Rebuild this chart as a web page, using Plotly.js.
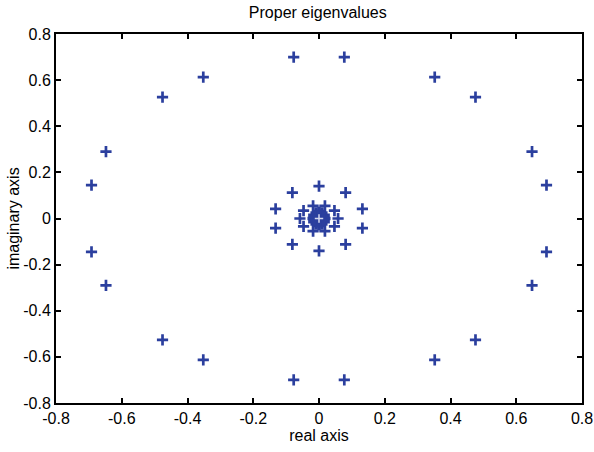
<!DOCTYPE html>
<html>
<head>
<meta charset="utf-8">
<script src="https://cdn.plot.ly/plotly-3.0.1.min.js"></script>
<style>html,body{margin:0;padding:0;background:#fff;}#chart{width:594px;height:452px;}</style>
</head>
<body>
<div id="chart"></div>
<script>
// Outer ring of eigenvalues
var outerRe = [0.077, 0.352, 0.476, 0.648, 0.692, 0.692, 0.648, 0.476, 0.352, 0.077,
               -0.077, -0.352, -0.476, -0.648, -0.692, -0.692, -0.648, -0.476, -0.352, -0.077];
var outerIm = [0.700, 0.613, 0.526, 0.290, 0.145, -0.145, -0.290, -0.526, -0.613, -0.700,
               -0.700, -0.613, -0.526, -0.290, -0.145, 0.145, 0.290, 0.526, 0.613, 0.700];
// First inner ring
var ring1Re = [0.000, 0.081, 0.132, 0.132, 0.081, 0.000, -0.081, -0.132, -0.132, -0.081];
var ring1Im = [0.140, 0.112, 0.042, -0.042, -0.112, -0.140, -0.112, -0.042, 0.042, 0.112];
// Second inner ring
var ring2Re = [0.058, 0.047, 0.018, -0.018, -0.047, -0.058, -0.047, -0.018, 0.018, 0.047];
var ring2Im = [0.000, 0.034, 0.055, 0.055, 0.034, 0.000, -0.034, -0.055, -0.055, -0.034];
// Dense cluster near the origin
var clusterRe = [0.018, 0.016, 0.009, 0.000, -0.009, -0.016, -0.018, -0.016, -0.009, 0.000, 0.009, 0.016,
                 0.012, 0.006, -0.006, -0.012, -0.006, 0.006,
                 0.013, -0.013, 0.013, -0.013];
var clusterIm = [0.000, 0.014, 0.024, 0.027, 0.024, 0.014, 0.000, -0.014, -0.024, -0.027, -0.024, -0.014,
                 0.000, 0.015, 0.015, 0.000, -0.015, -0.015,
                 0.007, 0.007, -0.007, -0.007];
var centerRe = [0];
var centerIm = [0];

var xTicks = [-0.8, -0.6, -0.4, -0.2, 0, 0.2, 0.4, 0.6, 0.8];
var xTickText = ['-0.8', '-0.6', '-0.4', '-0.2', '0', '0.2', '0.4', '0.6', '0.8'];
var yTicks = [-0.8, -0.6, -0.4, -0.2, 0, 0.2, 0.4, 0.6, 0.8];
var yTickText = ['-0.8', '-0.6', '-0.4', '-0.2', '0', '0.2', '0.4', '0.6', '0.8'];

var blue = '#2b3f9e';
function crossTrace(xs, ys, w) {
  return {
    x: xs, y: ys, type: 'scatter', mode: 'markers', hoverinfo: 'x+y',
    marker: {symbol: 'cross-thin', size: 8, color: blue, line: {color: blue, width: w}}
  };
}
var traces = [
  crossTrace(outerRe, outerIm, 2.7),
  crossTrace(ring1Re, ring1Im, 2.7),
  crossTrace(ring2Re, ring2Im, 2.7),
  crossTrace(clusterRe, clusterIm, 3.5),
  {x: centerRe, y: centerIm, type: 'scatter', mode: 'markers',
   marker: {symbol: 'cross-thin', size: 6, color: '#d4d8ee', line: {color: '#d4d8ee', width: 1.5}}}
];

var font = {family: 'Liberation Sans, Arial, sans-serif', size: 16, color: '#000'};
var axisCommon = {
  range: [-0.8, 0.8], showgrid: false, zeroline: false,
  showline: true, linecolor: '#000', linewidth: 2, mirror: 'ticks',
  ticks: 'inside', ticklen: 5, tickwidth: 2, tickcolor: '#000',
  tickfont: font, automargin: false
};
var layout = {
  width: 594, height: 452,
  margin: {l: 56, r: 12, t: 34, b: 49},
  paper_bgcolor: '#fff', plot_bgcolor: '#fff',
  showlegend: false,
  font: font,
  title: {text: 'Proper eigenvalues', font: {family: font.family, size: 16, color: '#000'},
          x: 0.535, xanchor: 'center', y: 0.972, yanchor: 'middle'},
  xaxis: Object.assign({}, axisCommon, {
    tickvals: xTicks, ticktext: xTickText,
    title: {text: 'real axis', font: font, standoff: 2}
  }),
  yaxis: Object.assign({}, axisCommon, {
    tickvals: yTicks, ticktext: yTickText, ticklabelstandoff: 0,
    title: {text: 'imaginary axis', font: font, standoff: 0}
  })
};
Plotly.newPlot('chart', traces, layout, {displayModeBar: false, staticPlot: true});
</script>
</body>
</html>
